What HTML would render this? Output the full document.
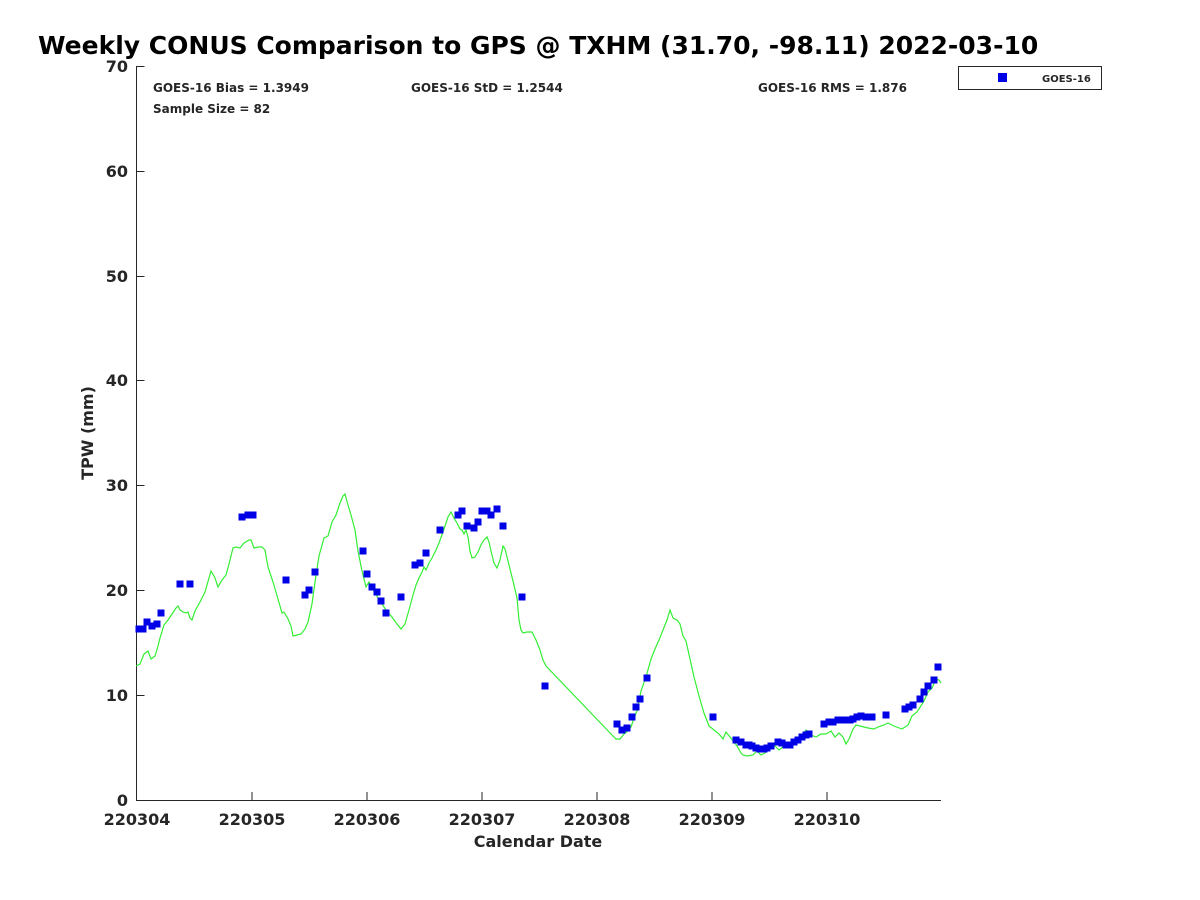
<!DOCTYPE html>
<html><head><meta charset="utf-8"><style>body{margin:0;background:#fff}svg{display:block}text{font-family:"DejaVu Sans","Liberation Sans",sans-serif;font-weight:bold;fill:#262626}</style></head><body>
<svg width="1200" height="900" xmlns="http://www.w3.org/2000/svg">
<text x="38" y="54" font-size="25" style="fill:#000">Weekly CONUS Comparison to GPS @ TXHM (31.70, -98.11) 2022-03-10</text>
<g stroke="#262626" stroke-width="1" fill="none">
<path d="M136.5 66V800.5H941"/>
<path d="M136.5 800.5V792M252 800.5V792M367 800.5V792M482 800.5V792M597 800.5V792M712 800.5V792M827 800.5V792"/>
<path d="M136.5 800.5h8M136.5 695.5h8M136.5 590.5h8M136.5 485.5h8M136.5 380.5h8M136.5 276.5h8M136.5 171.5h8M136.5 66.5h8"/>
</g>
<g font-size="16" text-anchor="end">
<text x="128" y="806">0</text><text x="128" y="701">10</text><text x="128" y="596">20</text><text x="128" y="491">30</text><text x="128" y="386">40</text><text x="128" y="282">50</text><text x="128" y="177">60</text><text x="128" y="72">70</text>
</g>
<g font-size="16" text-anchor="middle">
<text x="137" y="825">220304</text><text x="252" y="825">220305</text><text x="367" y="825">220306</text><text x="482" y="825">220307</text><text x="597" y="825">220308</text><text x="712" y="825">220309</text><text x="827" y="825">220310</text>
<text x="538" y="847">Calendar Date</text>
<text transform="translate(93,433) rotate(-90)">TPW (mm)</text>
</g>
<g font-size="12">
<text x="153" y="92">GOES-16 Bias = 1.3949</text>
<text x="411" y="92">GOES-16 StD = 1.2544</text>
<text x="758" y="92">GOES-16 RMS = 1.876</text>
<text x="153" y="113">Sample Size = 82</text>
</g>
<rect x="958.5" y="66.5" width="143" height="23" fill="#fff" stroke="#262626"/>
<rect x="998" y="73" width="9" height="9" fill="#0000e6"/>
<text x="1042" y="82" font-size="10">GOES-16</text>
<polyline fill="none" stroke="#33ee33" stroke-width="1.2" points="136,666 140,664 144,654 148,651 151,659 155,656 158,646 160,638 164,625 168,620 172,614 176,608 178,606 180,610 183,612 186,613 188,612 190,618 192,620 195,611 200,602 205,592 211,571 215,578 218,587 222,580 226,575 229,564 233,548 236,547 240,548 244,543 249,540 251,540 254,548 258,547 262,547 265,550 268,567 273,582 278,599 282,613 284,612 288,619 291,626 293,636 297,635 301,634 305,629 308,622 312,604 315,582 319,556 324,538 328,536 332,522 336,515 340,503 343,496 345,494 348,505 351,515 355,530 358,551 362,571 366,587 369,582 372,588 375,593 380,601 386,610 392,617 397,624 401,629 405,624 409,610 413,595 416,585 419,578 422,572 424,567 426,570 429,563 432,558 436,550 439,543 444,529 448,517 451,512 454,518 457,523 460,529 462,530 464,534 466,530 468,537 470,551 472,558 475,557 478,552 481,545 484,540 487,537 489,542 491,551 494,563 497,568 500,560 503,546 505,549 509,565 513,581 517,598 519,620 521,630 523,633 527,632 532,632 536,640 540,650 543,660 546,666 612,735 616,739 620,739 624,734 628,731 631,727 634,718 637,711 641,691 646,677 651,659 655,649 659,640 663,630 667,620 670,610 673,618 677,620 680,624 683,636 686,641 690,659 694,677 699,696 704,713 709,726 714,730 719,734 723,739 726,732 730,737 734,742 737,746 741,753 743,755 747,756 753,755 757,751 761,755 765,753 771,745 775,746 779,750 783,747 787,743 791,742 796,738 801,737 806,730 811,735 816,737 821,734 826,734 831,731 835,737 839,733 843,737 846,744 849,739 853,729 856,725 860,726 868,728 874,729 878,727 884,725 888,723 894,726 902,729 908,725 912,716 917,712 924,701 928,692 932,688 936,679 939,680 941,683"/>
<g fill="#0000e6">
<rect x="135.5" y="625.5" width="7" height="7"/><rect x="139.5" y="625.5" width="7" height="7"/><rect x="143.5" y="618.5" width="7" height="7"/><rect x="148.5" y="622.5" width="7" height="7"/><rect x="153.5" y="620.5" width="7" height="7"/><rect x="157.5" y="609.5" width="7" height="7"/><rect x="176.5" y="580.5" width="7" height="7"/><rect x="186.5" y="580.5" width="7" height="7"/><rect x="238.5" y="513.5" width="7" height="7"/><rect x="244.5" y="511.5" width="7" height="7"/><rect x="249.5" y="511.5" width="7" height="7"/><rect x="282.5" y="576.5" width="7" height="7"/><rect x="301.5" y="591.5" width="7" height="7"/><rect x="305.5" y="586.5" width="7" height="7"/><rect x="311.5" y="568.5" width="7" height="7"/><rect x="359.5" y="547.5" width="7" height="7"/><rect x="363.5" y="570.5" width="7" height="7"/><rect x="368.5" y="583.5" width="7" height="7"/><rect x="373.5" y="588.5" width="7" height="7"/><rect x="377.5" y="597.5" width="7" height="7"/><rect x="382.5" y="609.5" width="7" height="7"/><rect x="397.5" y="593.5" width="7" height="7"/><rect x="411.5" y="561.5" width="7" height="7"/><rect x="416.5" y="559.5" width="7" height="7"/><rect x="422.5" y="549.5" width="7" height="7"/><rect x="436.5" y="526.5" width="7" height="7"/><rect x="454.5" y="511.5" width="7" height="7"/><rect x="458.5" y="507.5" width="7" height="7"/><rect x="463.5" y="522.5" width="7" height="7"/><rect x="470.5" y="524.5" width="7" height="7"/><rect x="474.5" y="518.5" width="7" height="7"/><rect x="478.5" y="507.5" width="7" height="7"/><rect x="483.5" y="507.5" width="7" height="7"/><rect x="487.5" y="511.5" width="7" height="7"/><rect x="493.5" y="505.5" width="7" height="7"/><rect x="499.5" y="522.5" width="7" height="7"/><rect x="518.5" y="593.5" width="7" height="7"/><rect x="541.5" y="682.5" width="7" height="7"/><rect x="613.5" y="720.5" width="7" height="7"/><rect x="618.5" y="726.5" width="7" height="7"/><rect x="623.5" y="724.5" width="7" height="7"/><rect x="628.5" y="713.5" width="7" height="7"/><rect x="632.5" y="703.5" width="7" height="7"/><rect x="636.5" y="695.5" width="7" height="7"/><rect x="643.5" y="674.5" width="7" height="7"/><rect x="709.5" y="713.5" width="7" height="7"/><rect x="732.5" y="736.5" width="7" height="7"/><rect x="737.5" y="738.5" width="7" height="7"/><rect x="742.5" y="741.5" width="7" height="7"/><rect x="745.5" y="741.5" width="7" height="7"/><rect x="748.5" y="742.5" width="7" height="7"/><rect x="752.5" y="744.5" width="7" height="7"/><rect x="756.5" y="745.5" width="7" height="7"/><rect x="760.5" y="745.5" width="7" height="7"/><rect x="763.5" y="744.5" width="7" height="7"/><rect x="767.5" y="742.5" width="7" height="7"/><rect x="774.5" y="738.5" width="7" height="7"/><rect x="778.5" y="739.5" width="7" height="7"/><rect x="782.5" y="741.5" width="7" height="7"/><rect x="786.5" y="741.5" width="7" height="7"/><rect x="790.5" y="738.5" width="7" height="7"/><rect x="794.5" y="736.5" width="7" height="7"/><rect x="798.5" y="733.5" width="7" height="7"/><rect x="802.5" y="731.5" width="7" height="7"/><rect x="805.5" y="730.5" width="7" height="7"/><rect x="820.5" y="720.5" width="7" height="7"/><rect x="825.5" y="718.5" width="7" height="7"/><rect x="829.5" y="718.5" width="7" height="7"/><rect x="834.5" y="716.5" width="7" height="7"/><rect x="838.5" y="716.5" width="7" height="7"/><rect x="842.5" y="716.5" width="7" height="7"/><rect x="846.5" y="716.5" width="7" height="7"/><rect x="849.5" y="715.5" width="7" height="7"/><rect x="853.5" y="713.5" width="7" height="7"/><rect x="857.5" y="712.5" width="7" height="7"/><rect x="862.5" y="713.5" width="7" height="7"/><rect x="868.5" y="713.5" width="7" height="7"/><rect x="882.5" y="711.5" width="7" height="7"/><rect x="901.5" y="705.5" width="7" height="7"/><rect x="905.5" y="703.5" width="7" height="7"/><rect x="909.5" y="701.5" width="7" height="7"/><rect x="916.5" y="695.5" width="7" height="7"/><rect x="920.5" y="688.5" width="7" height="7"/><rect x="924.5" y="682.5" width="7" height="7"/><rect x="930.5" y="676.5" width="7" height="7"/><rect x="934.5" y="663.5" width="7" height="7"/>
</g>
</svg>
</body></html>
